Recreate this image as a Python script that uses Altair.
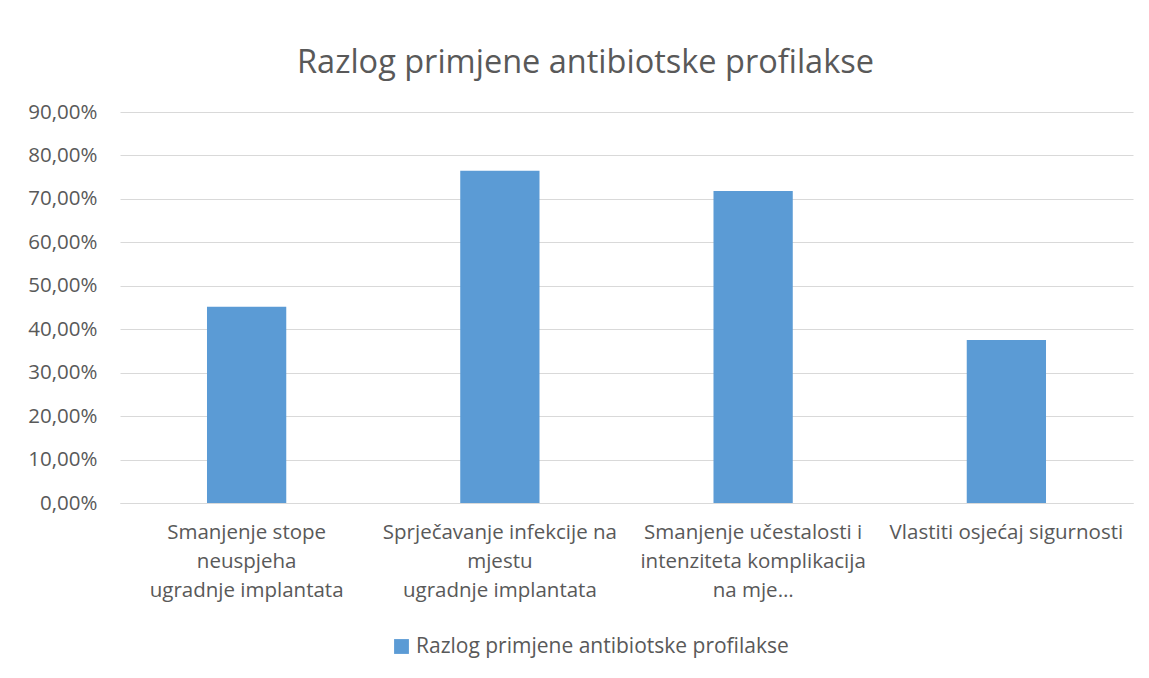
import altair as alt
import pandas as pd

# Category labels (each entry: list of display lines)
category_lines = [
    ["Smanjenje stope", "neuspjeha", "ugradnje implantata"],
    ["Sprječavanje infekcije na", "mjestu", "ugradnje implantata"],
    ["Smanjenje učestalosti i", "intenziteta komplikacija", "na mje…"],
    ["Vlastiti osjećaj sigurnosti"],
]
values = [45.2, 76.5, 71.8, 37.5]
series_name = "Razlog primjene antibiotske profilakse"
title_text = "Razlog primjene antibiotske profilakse"
y_ticks = [0, 10, 20, 30, 40, 50, 60, 70, 80, 90]

categories = ["|".join(lines) for lines in category_lines]
df = pd.DataFrame({"kategorija": categories, "vrijednost": values, "serija": series_name})

FONT = "Open Sans"
TXT = "#595959"

chart = (
    alt.Chart(df)
    .mark_bar(color="#5b9bd5")
    .encode(
        x=alt.X(
            "kategorija:N",
            sort=categories,
            scale=alt.Scale(paddingInner=0.687, paddingOuter=0.3435),
            axis=alt.Axis(
                title=None,
                labelAngle=0,
                labelExpr="split(datum.value, '|')",
                labelLimit=0,
                labelFontSize=20.5,
                labelColor=TXT,
                labelFont=FONT,
                labelLineHeight=29,
                labelPadding=19,
                labelBaseline="top",
                ticks=False,
                domainColor="#d9d9d9",
                domainWidth=1,
                grid=False,
            ),
        ),
        y=alt.Y(
            "vrijednost:Q",
            scale=alt.Scale(domain=[0, 90], nice=False),
            axis=alt.Axis(
                title=None,
                values=y_ticks,
                labelExpr="replace(format(datum.value, '.2f'), '.', ',') + '%'",
                labelFontSize=20.5,
                labelColor=TXT,
                labelFont=FONT,
                labelPadding=23,
                ticks=False,
                domain=False,
                gridColor="#d9d9d9",
                gridWidth=1,
            ),
        ),
        fill=alt.Fill(
            "serija:N",
            scale=alt.Scale(range=["#5b9bd5"]),
            legend=alt.Legend(
                title=None,
                orient="none",
                legendX=271,
                legendY=524,
                symbolType="square",
                symbolSize=220,
                symbolStrokeWidth=0,
                labelFontSize=21,
                labelColor=TXT,
                labelFont=FONT,
                labelLimit=0,
                labelOffset=4,
            ),
        ),
    )
    .properties(
        width=1013,
        height=391,
        title=alt.TitleParams(
            title_text,
            fontSize=32.5,
            font=FONT,
            fontWeight="normal",
            color=TXT,
            anchor="middle",
            dx=-41,
            offset=23,
        ),
        autosize=alt.AutoSizeParams(type="none"),
        padding={"left": 112, "top": 104, "right": 8, "bottom": 167},
    )
    .configure_view(stroke=None)
)

chart.save("out.html", embed_options={"renderer": "svg", "actions": False})
